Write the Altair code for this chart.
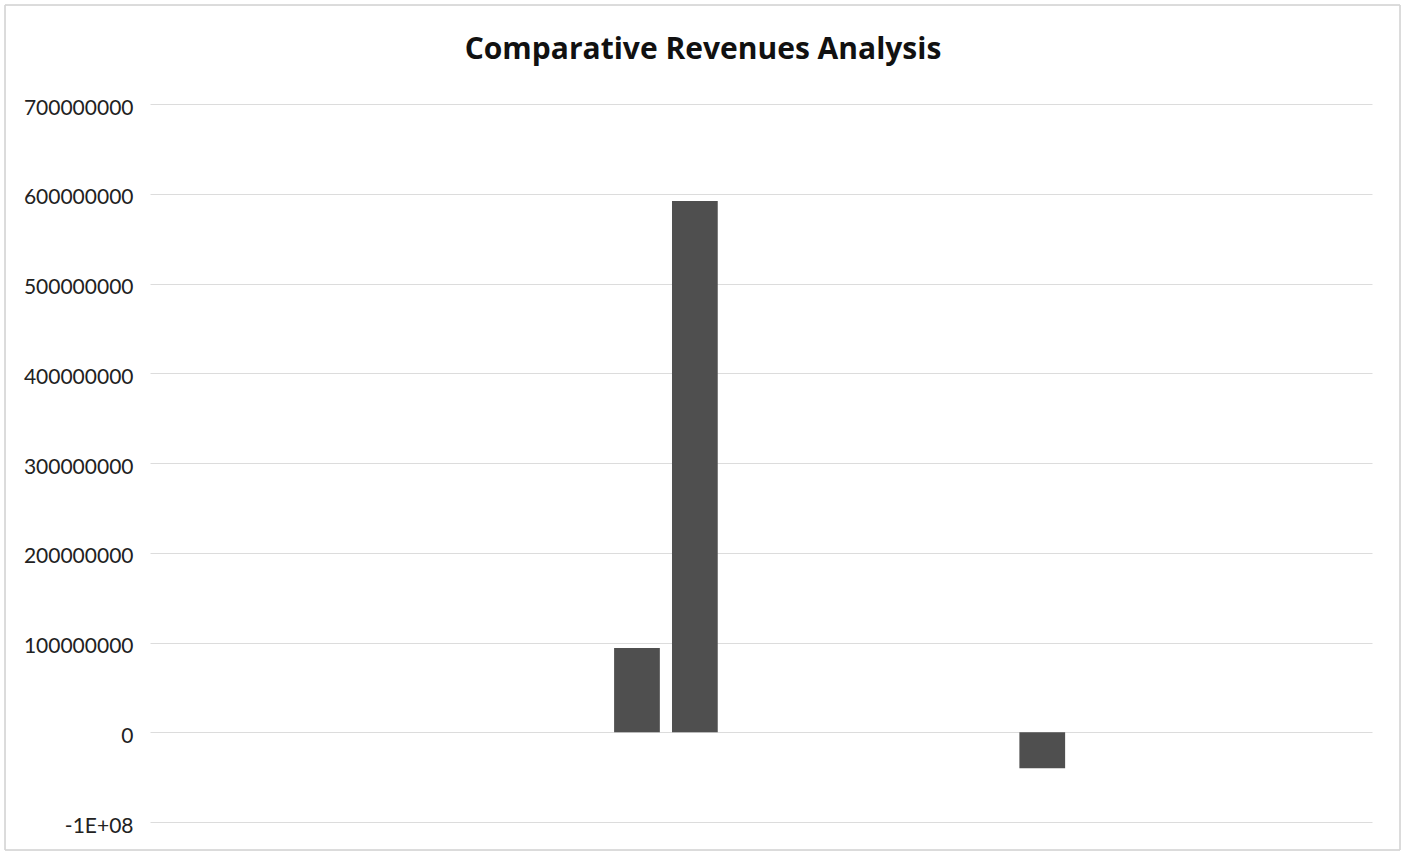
import altair as alt
import pandas as pd

# Category slots along the horizontal axis (the source chart shows no x labels)
slot_labels = ["S01", "S02", "S03", "S04", "S05", "S06", "S07", "S08", "S09", "S10", "S11",
               "S12", "S13", "S14", "S15", "S16", "S17", "S18", "S19", "S20", "S21"]
bar_slots = ["S09", "S10", "S16"]
bar_values = [94000000, 592000000, -40000000]
y_ticks = [-100000000, 0, 100000000, 200000000, 300000000, 400000000,
           500000000, 600000000, 700000000]
title_text = "Comparative Revenues Analysis"

df = pd.DataFrame({"slot": bar_slots, "revenue": bar_values})

bars = alt.Chart(df).mark_bar(color="#4f4f4f").encode(
    x=alt.X("slot:N",
            scale=alt.Scale(domain=slot_labels, paddingInner=0.21, paddingOuter=0.158, align=0.05),
            axis=None),
    y=alt.Y("revenue:Q",
            scale=alt.Scale(domain=[-100000000, 700000000], nice=False, zero=False),
            axis=alt.Axis(values=y_ticks, title=None,
                          labelExpr="datum.value == -100000000 ? '-1E+08' : format(datum.value, 'd')",
                          labelFont="Lato", labelFontSize=21, labelColor="#222222",
                          labelPadding=17, labelOffset=4, ticks=False, domain=False,
                          grid=True, gridColor="#dcdcdc", gridWidth=1)),
)

frame = alt.Chart(df).mark_rect(fill=None, stroke="#d6d6d6", strokeWidth=1).encode(
    x=alt.value(-145), x2=alt.value(1250), y=alt.value(-99), y2=alt.value(746)
)

chart = alt.layer(frame, bars).properties(
    width=1222, height=718,
    background="white",
    title=alt.TitleParams(title_text, font="Open Sans", fontSize=30, fontWeight="bold",
                          color="#111111", anchor="middle", dx=-58, offset=-60),
    autosize=alt.AutoSizeParams(type="none"),
    padding={"left": 150, "top": 104, "right": 33, "bottom": 32},
).configure_view(stroke=None)

chart.save("out.html", embed_options={"renderer": "svg", "actions": False})
